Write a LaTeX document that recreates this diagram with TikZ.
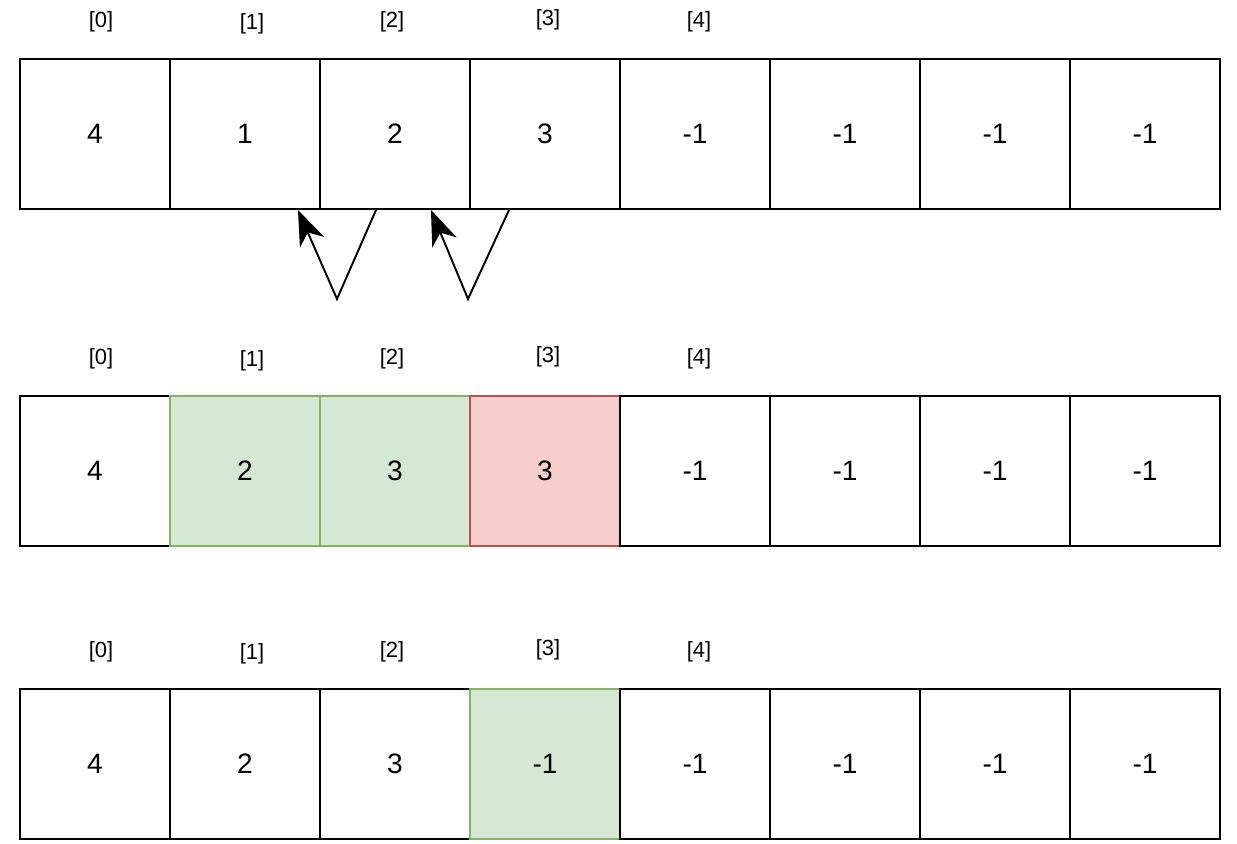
\documentclass[tikz,border=0pt]{standalone}
\usepackage{fontspec}
\setmainfont{Liberation Sans}
\usetikzlibrary{arrows.meta,calc}
\definecolor{okfill}{HTML}{D5E8D4}
\definecolor{okline}{HTML}{82B366}
\definecolor{badfill}{HTML}{F8CECC}
\definecolor{badline}{HTML}{B85450}
\tikzset{
  cell/.style={draw, line width=1.1pt, minimum size=3cm, inner sep=0pt,
    font=\fontsize{16}{18}\selectfont},
  okcell/.style={cell, draw=okline, fill=okfill},
  badcell/.style={cell, draw=badline, fill=badfill},
  idx/.style={inner sep=0pt, font=\fontsize{12.5}{14}\selectfont},
  move/.style={line width=1.1pt, -{Stealth[length=20pt,width=15pt,inset=6pt]}}
}
\begin{document}
\begin{tikzpicture}[x=0.02cm,y=-0.02cm]
\useasboundingbox (0,0) rectangle (1237,844);
% before the shift
\foreach \v/\s [count=\i from 0] in {4/cell,1/cell,2/cell,3/cell,-1/cell,-1/cell,-1/cell,-1/cell}
  \node[\s] (a\i) at (95+150*\i,134) {\v};
% after copying left
\foreach \v/\s [count=\i from 0] in {4/cell,2/okcell,3/okcell,3/badcell,-1/cell,-1/cell,-1/cell,-1/cell}
  \node[\s] (b\i) at (95+150*\i,471) {\v};
% last slot cleared
\foreach \v/\s [count=\i from 0] in {4/cell,2/cell,3/cell,-1/okcell,-1/cell,-1/cell,-1/cell,-1/cell}
  \node[\s] (c\i) at (95+150*\i,764) {\v};
% indices
\foreach \n/\dx/\dy in {0/6/112,1/7/110,2/-3/112,3/3/114,4/4/112}
  \foreach \r in {a,b,c}
    \node[idx] (\r i\n) at ($(\r\n)+(\dx,-\dy)$) {[\n]};
% arrows
\coordinate (v1) at (337,299);
\coordinate (v2) at (468,299);
\draw[move] ($(a2.south west)+(57,0)$) -- (v1) -- ($(a1.south east)+(-23,0)$);
\draw[move] ($(a3.south west)+(40,0)$) -- (v2) -- ($(a2.south east)+(-40,0)$);
\end{tikzpicture}
\end{document}
